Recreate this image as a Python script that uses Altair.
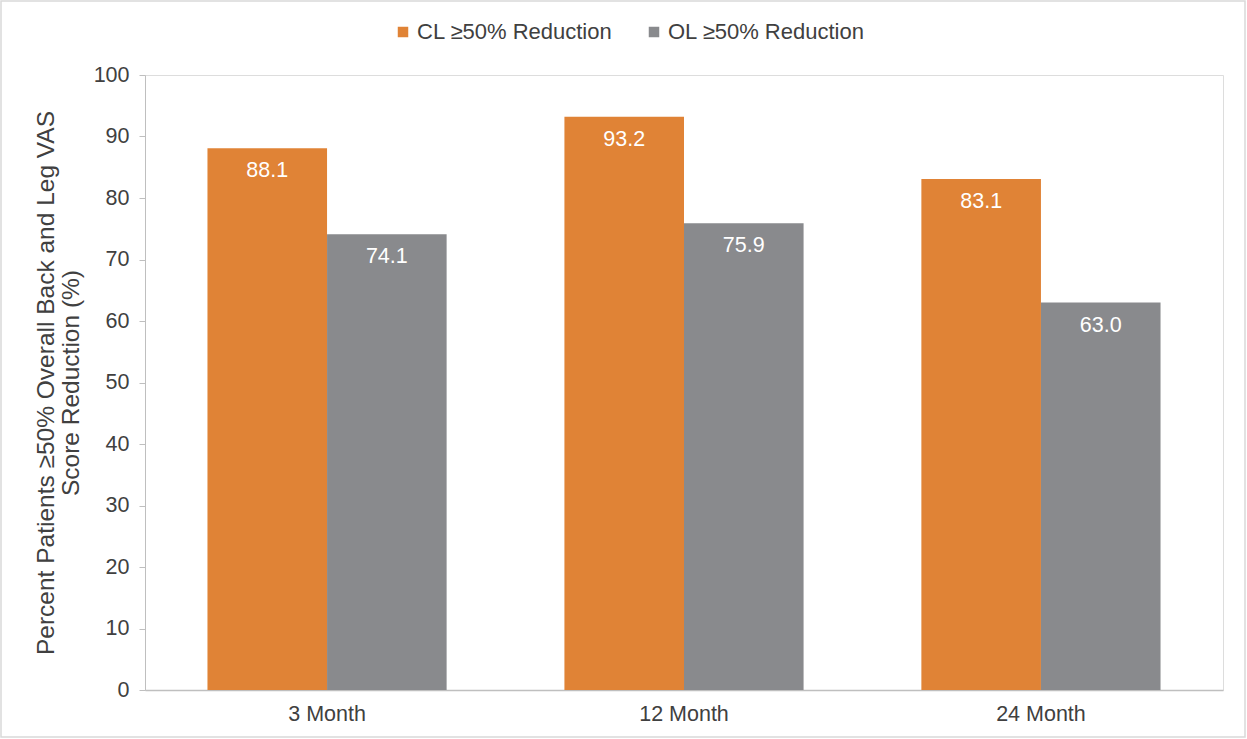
import altair as alt
import pandas as pd

categories = ["3 Month", "12 Month", "24 Month"]
series = ["CL ≥50% Reduction", "OL ≥50% Reduction"]
cl_values = [88.1, 93.2, 83.1]
ol_values = [74.1, 75.9, 63.0]
colors = ["#E08336", "#898A8D"]

rows = []
for c, a, b in zip(categories, cl_values, ol_values):
    rows.append({"period": c, "series": series[0], "value": a})
    rows.append({"period": c, "series": series[1], "value": b})
df = pd.DataFrame(rows)

W, H = 1078, 615
FONT = "Liberation Sans"
FS = 21.5

x = alt.X("period:N", sort=categories, title=None,
          scale=alt.Scale(paddingInner=0.33, paddingOuter=0.175),
          axis=alt.Axis(labelAngle=0, labelFontSize=FS, labelColor="#404040",
                        labelPadding=13, ticks=False, domainColor="#BFBFBF",
                        domainWidth=1.5, labelFont=FONT))
y = alt.Y("value:Q", scale=alt.Scale(domain=[0, 100]),
          title=["Percent Patients ≥50% Overall Back and Leg VAS", "Score Reduction (%)"],
          axis=alt.Axis(values=list(range(0, 101, 10)), grid=False, labelFontSize=FS,
                        labelColor="#404040", tickColor="#BFBFBF", tickSize=6,
                        domainColor="#BFBFBF", labelPadding=10, titleFontSize=24.5,
                        titleFontWeight="normal", titleColor="#404040", titlePadding=10,
                        titleLineHeight=25, labelFont=FONT, titleFont=FONT))
xo = alt.XOffset("series:N", sort=series)
color = alt.Color("series:N", sort=series,
                  scale=alt.Scale(domain=series, range=colors),
                  legend=alt.Legend(title=None, orient="none", direction="horizontal",
                                    legendX=247, legendY=-54, labelFontSize=22,
                                    labelColor="#404040", symbolType="square",
                                    symbolSize=110, symbolStrokeWidth=0,
                                    columnPadding=30, labelFont=FONT, symbolOffset=0,
                                    labelOffset=3, labelLimit=400))

base = alt.Chart(df)
bars = base.mark_bar().encode(x=x, xOffset=xo, y=y, color=color)
labels = base.mark_text(color="white", fontSize=FS, font=FONT, baseline="middle", dy=23).encode(
    x=alt.X("period:N", sort=categories), xOffset=xo, y="value:Q",
    text=alt.Text("value:Q", format=".1f"))
frame = alt.Chart(pd.DataFrame({"a": [0]})).mark_rect(fill=None, stroke="#D9D9D9", strokeWidth=1.5).encode(
    x=alt.value(-144), x2=alt.value(W + 22), y=alt.value(-74), y2=alt.value(H + 47))

chart = alt.layer(bars, labels, frame).properties(
    width=W, height=H,
    autosize=alt.AutoSizeParams(type="none"),
    padding={"left": 145, "top": 75, "right": 24, "bottom": 49},
).configure_view(stroke=None).configure(background="white")

chart.save("out.html", embed_options={"renderer": "svg", "actions": False})
